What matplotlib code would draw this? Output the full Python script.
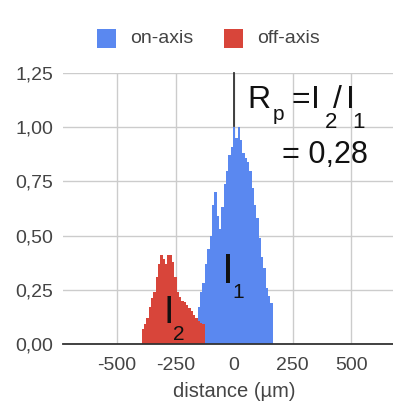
import numpy as np
import matplotlib
matplotlib.use("Agg")
import matplotlib.pyplot as plt
from matplotlib.patches import Rectangle

# ---- data ----
series_names = ["on-axis", "off-axis"]
on_x = [-170, -160, -150, -140, -130, -120, -110, -100, -90, -80, -70, -60, -50, -40,
        -30, -20, -10, 0, 10, 20, 30, 40, 50, 60, 70, 80, 90, 100, 110, 120,
        130, 140, 150, 160, 170]
on_y = [0.0, 0.10, 0.17, 0.24, 0.28, 0.37, 0.44, 0.50, 0.64, 0.70, 0.59, 0.53, 0.63, 0.74,
        0.80, 0.87, 0.91, 1.00, 0.95, 1.00, 0.94, 0.88, 0.86, 0.84, 0.80, 0.72, 0.64, 0.58,
        0.49, 0.40, 0.35, 0.26, 0.22, 0.19, 0.0]
off_x = [-400, -390, -380, -370, -360, -350, -340, -330, -320, -310, -300, -290, -280,
         -270, -260, -250, -240, -230, -220, -210, -200, -190, -180, -170, -160, -150,
         -140, -130, -120]
off_y = [0.0, 0.07, 0.09, 0.12, 0.17, 0.21, 0.24, 0.31, 0.37, 0.41, 0.39, 0.37, 0.41,
         0.41, 0.38, 0.31, 0.24, 0.215, 0.20, 0.195, 0.18, 0.165, 0.15, 0.135, 0.12,
         0.105, 0.095, 0.09, 0.0]
x_ticks = [-500, -250, 0, 250, 500]
x_tick_labels = ["-500", "-250", "0", "250", "500"]
y_ticks = [0.0, 0.25, 0.5, 0.75, 1.0, 1.25]
y_tick_labels = ["0,00", "0,25", "0,50", "0,75", "1,00", "1,25"]
x_label = "distance (µm)"
ratio_text = "= 0,28"

BLUE = "#5a88f0"
RED = "#d8453a"

plt.rcParams["font.family"] = ["Liberation Sans", "DejaVu Sans"]

W, H = 393, 405
fig = plt.figure(figsize=(W / 100, H / 100), dpi=100)
ax = fig.add_axes([63 / W, (H - 344) / H, (W - 63) / W, 271 / H])

ax.fill_between(on_x, on_y, 0, step="mid", color=BLUE, linewidth=0, zorder=2)
ax.fill_between(off_x, off_y, 0, step="mid", color=RED, linewidth=0, zorder=3)

ax.set_xlim(-731, 679)
ax.set_ylim(0, 1.25)
ax.set_xticks(x_ticks)
ax.set_xticklabels(x_tick_labels)
ax.set_yticks(y_ticks)
ax.set_yticklabels(y_tick_labels)
ax.tick_params(length=0, labelsize=14, colors="#444444")
ax.tick_params(axis="x", pad=9)
ax.tick_params(axis="y", pad=7)
ax.grid(True, color="#cccccc", linewidth=1.0, zorder=0)
ax.set_axisbelow(True)
for s in ["top", "right", "left"]:
    ax.spines[s].set_visible(False)
ax.spines["bottom"].set_color("#333333")
ax.spines["bottom"].set_linewidth(1.3)
ax.spines["bottom"].set_zorder(5)

ax.set_xlabel(x_label, fontsize=14.5, color="#444444")
ax.xaxis.set_label_coords((234 - 63) / (W - 63), -0.14)

# annotations
ax.plot([0, 0], [1.005, 1.25], color="#333333", linewidth=1.3, zorder=6, clip_on=False)
tc = "#111111"
ax.text(58, 1.089, "R", fontsize=23, color=tc, va="baseline", ha="left")
ax.text(165, 1.035, "p", fontsize=15, color=tc, va="baseline", ha="left")
ax.text(245, 1.089, "=", fontsize=23, color=tc, va="baseline", ha="left")
ax.text(330, 1.089, "I", fontsize=23, color=tc, va="baseline", ha="left")
ax.text(387, 0.996, "2", fontsize=16, color=tc, va="baseline", ha="left")
ax.text(421, 1.089, "/", fontsize=23, color=tc, va="baseline", ha="left")
ax.text(478, 1.089, "I", fontsize=23, color=tc, va="baseline", ha="left")
ax.text(506, 0.996, "1", fontsize=16, color=tc, va="baseline", ha="left")
ax.text(205, 0.835, ratio_text, fontsize=22, color=tc, va="baseline", ha="left")

ax.text(-52, 0.281, "I", fontsize=31, color=tc, va="baseline", ha="left")
ax.text(-6, 0.212, "1", fontsize=15, color=tc, va="baseline", ha="left")
ax.text(-300, 0.097, "I", fontsize=27, color=tc, va="baseline", ha="left")
ax.text(-262, 0.018, "2", fontsize=15, color=tc, va="baseline", ha="left")

# legend
leg = [(series_names[0], BLUE, 97, 130), (series_names[1], RED, 224, 257)]
for name, col, sx, tx in leg:
    fig.patches.append(Rectangle((sx / W, (H - 48) / H), 19 / W, 19 / H,
                                 transform=fig.transFigure, color=col, linewidth=0))
    fig.text(tx / W, (H - 38.5) / H, name, fontsize=14, color="#444444",
             va="center", ha="left")

fig.savefig("out.png", dpi=100)
